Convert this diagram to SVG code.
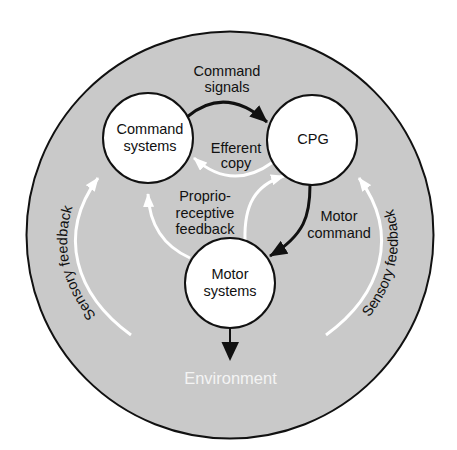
<svg xmlns="http://www.w3.org/2000/svg" width="457" height="450" viewBox="0 0 457 450">
<style>
text{font-family:"Liberation Sans",Arial,sans-serif;font-size:14.5px;fill:#111;text-anchor:middle}
.node{fill:#fff;stroke:#111;stroke-width:2}
.blk{fill:none;stroke:#111;stroke-width:3}
.wht{fill:none;stroke:#fff;stroke-width:3}
.env{fill:#f4f4f4;font-size:16.5px}
</style>
<defs>
<marker id="mw" markerUnits="userSpaceOnUse" viewBox="0 0 14 11" markerWidth="14" markerHeight="11" refX="13" refY="5.5" orient="auto">
<path d="M0,0 L14,5.5 L0,11 z" fill="#fff"/>
</marker>
<marker id="mb" markerUnits="userSpaceOnUse" viewBox="0 0 18 15" markerWidth="18" markerHeight="15" refX="17" refY="7.5" orient="auto">
<path d="M0,0 L18,7.5 L0,15 z" fill="#111"/>
</marker>
<path id="sfR" d="M336,349 C396,304 420,235 373,168"/>
<path id="sfL" d="M125,342 C68,300 47,235 90,172"/>
</defs>
<rect width="457" height="450" fill="#fff"/>
<g id="environment">
<circle cx="230" cy="235" r="203.5" fill="#c9c9c9" stroke="#111" stroke-width="2"/>
<text class="env" x="230.5" y="384">Environment</text>
</g>
<g id="connectors">
<path class="blk" d="M187,117 Q225,85 267,122" marker-end="url(#mb)"/>
<path class="wht" d="M273,162 Q232,192 194,158" marker-end="url(#mw)"/>
<path class="wht" d="M190,258 Q150,240 148,194" marker-end="url(#mw)"/>
<path class="wht" d="M245,240 C244,205 255,185 284,176" marker-end="url(#mw)"/>
<path class="blk" d="M310,185 C310,215 305,235 270,256" marker-end="url(#mb)"/>
<path d="M230,328 L230,344" stroke="#111" stroke-width="2" fill="none"/>
<path d="M221.5,342 L239,342 L230,361 z" fill="#111"/>
<path class="wht" d="M326,335 C381,295 401,235 359,178" marker-end="url(#mw)"/>
<path class="wht" d="M131,335 C76,295 56,235 98,178" marker-end="url(#mw)"/>
<text><textPath href="#sfL" startOffset="50%">Sensory feedback</textPath></text>
<text><textPath href="#sfR" startOffset="50%">Sensory feedback</textPath></text>
<text x="227" y="76">Command</text>
<text x="227" y="92">signals</text>
<text x="236" y="153">Efferent</text>
<text x="236" y="168">copy</text>
<text x="205" y="201">Proprio-</text>
<text x="205" y="217.5">receptive</text>
<text x="205" y="234">feedback</text>
<text x="339" y="221">Motor</text>
<text x="339" y="237.5">command</text>
</g>
<g id="command-systems">
<circle class="node" cx="148" cy="138" r="45"/>
<text x="150" y="134">Command</text>
<text x="150" y="151">systems</text>
</g>
<g id="cpg">
<circle class="node" cx="312" cy="140" r="45"/>
<text x="313" y="144">CPG</text>
</g>
<g id="motor-systems">
<circle class="node" cx="230" cy="283" r="45"/>
<text x="230" y="279">Motor</text>
<text x="230" y="296">systems</text>
</g>
</svg>
